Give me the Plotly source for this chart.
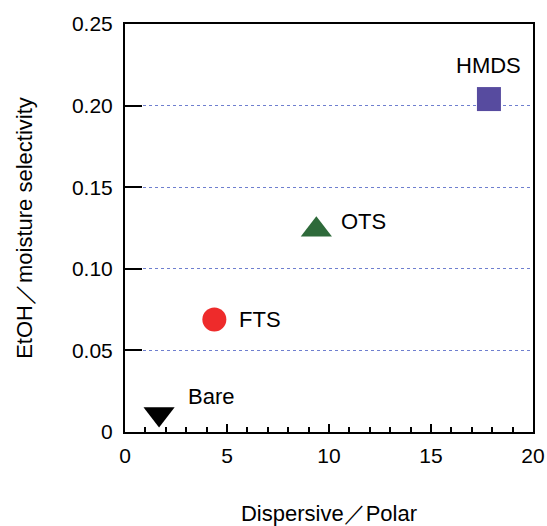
import plotly.graph_objects as go

# Data
names = ["Bare", "FTS", "OTS", "HMDS"]
x_vals = [1.67, 4.38, 9.38, 17.84]
y_vals = [0.011, 0.069, 0.124, 0.204]

# Styles
symbols = ["triangle-down", "circle", "triangle-up", "square"]
colors = ["#000000", "#EE2B2B", "#2E6A3A", "#574B9F"]
sizes = [27, 24, 27, 24]
label_xshift = [27, 23, 23, 0]
label_yshift = [18, 0, 8, 34]
label_xanchor = ["left", "left", "left", "center"]

FONT = "Liberation Sans, Arial, sans-serif"

fig = go.Figure()
fig.add_trace(go.Scatter(
    x=x_vals, y=y_vals, mode="markers",
    marker=dict(symbol=symbols, color=colors, size=sizes, opacity=1, line=dict(width=0)),
    opacity=1, showlegend=False, cliponaxis=False,
))

for n, xv, yv, xs, ys, xa in zip(names, x_vals, y_vals, label_xshift, label_yshift, label_xanchor):
    fig.add_annotation(x=xv, y=yv, xref="x", yref="y", text=n, showarrow=False,
                       xanchor=xa, yanchor="middle", xshift=xs, yshift=ys,
                       font=dict(size=22, color="black", family=FONT))

fig.update_layout(
    width=547, height=526,
    margin=dict(l=125, r=14, t=24, b=94, autoexpand=False),
    plot_bgcolor="white", paper_bgcolor="white",
    font=dict(family=FONT, size=21, color="black"),
)

fig.update_xaxes(
    range=[0, 20], tickvals=[0, 5, 10, 15, 20], ticktext=["0", "5", "10", "15", "20"],
    ticks="inside", ticklen=8, tickwidth=2, tickcolor="black",
    minor=dict(dtick=1, ticks="inside", ticklen=5, tickwidth=2, tickcolor="black", showgrid=False),
    showline=True, linecolor="black", linewidth=2, mirror=True,
    showgrid=False, zeroline=False, automargin=False,
    ticklabelstandoff=4,
    title=dict(text="Dispersive／Polar", font=dict(size=22), standoff=42),
    tickfont=dict(size=21),
)
fig.update_yaxes(
    range=[0, 0.25], tickvals=[0, 0.05, 0.10, 0.15, 0.20, 0.25],
    ticktext=["0", "0.05", "0.10", "0.15", "0.20", "0.25"],
    ticks="inside", ticklen=17, tickwidth=2, tickcolor="black",
    showline=True, linecolor="black", linewidth=2, mirror=True,
    showgrid=True, gridcolor="#6f7fcf", griddash="dot", gridwidth=1,
    zeroline=False, automargin=False,
    ticklabelstandoff=6,
    title=dict(text="EtOH／moisture selectivity", font=dict(size=22), standoff=33),
    tickfont=dict(size=21),
)

fig.write_html("out.html")
